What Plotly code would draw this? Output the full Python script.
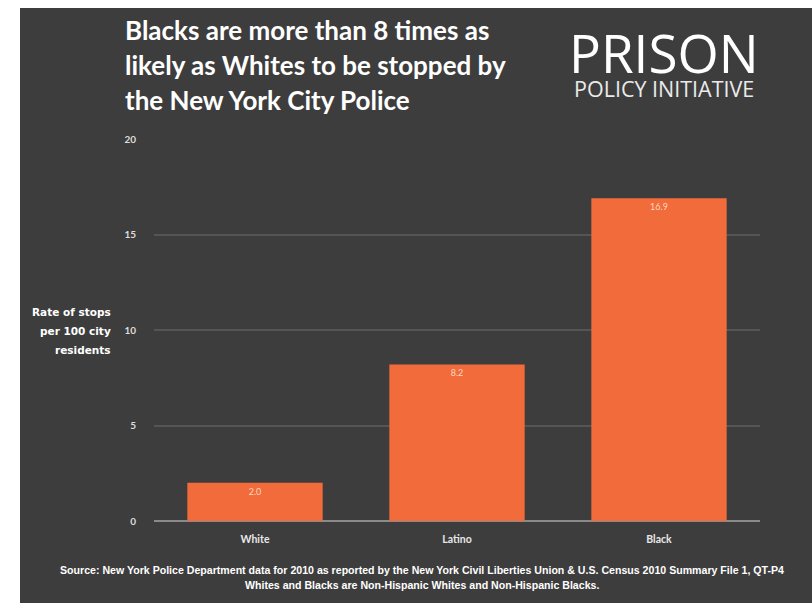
import plotly.graph_objects as go

categories = ["White", "Latino", "Black"]
rates = [2.0, 8.2, 16.9]
value_labels = ["2.0", "8.2", "16.9"]
y_ticks = [0, 5, 10, 15, 20]
title_lines = ["Blacks are more than 8 times as",
               "likely as Whites to be stopped by",
               "the New York City Police"]
ytitle_lines = ["Rate of stops", "per 100 city", "residents"]
source_lines = ["Source: New York Police Department data for 2010 as reported by the New York Civil Liberties Union &amp; U.S. Census 2010 Summary File 1, QT-P4",
                "Whites and Blacks are Non-Hispanic Whites and Non-Hispanic Blacks."]

BG = "#3d3d3d"
BAR = "#f26b3a"


def py2paper(py):
    return (521 - py) / 382


def px2paper(px):
    return (px - 154) / 606


fig = go.Figure()
fig.add_trace(go.Bar(
    x=categories, y=rates,
    marker=dict(color=BAR, line=dict(width=0)),
    text=value_labels, textposition="inside", insidetextanchor="end",
    textfont=dict(family="Lato", size=9, color="rgba(255,235,220,0.85)"),
    width=0.67,
))

annotations = []
for i, line in enumerate(title_lines):
    annotations.append(dict(
        text="<b>" + line + "</b>", xref="paper", yref="paper",
        x=px2paper(123), y=py2paper(30 + i * 35), xanchor="left", yanchor="middle",
        align="left", showarrow=False,
        font=dict(family="Lato", size=26, color="white")))

for i, line in enumerate(ytitle_lines):
    annotations.append(dict(
        text="<b>" + line + "</b>", xref="paper", yref="paper",
        x=px2paper(113), y=py2paper(312 + i * 19), xanchor="right", yanchor="middle",
        align="right", showarrow=False,
        font=dict(family="DejaVu Sans", size=10.5, color="white")))

for i, line in enumerate(source_lines):
    annotations.append(dict(
        text="<b>" + line + "</b>", xref="paper", yref="paper",
        x=px2paper(422), y=py2paper(570 + i * 15), xanchor="center", yanchor="middle",
        align="center", showarrow=False,
        font=dict(family="Liberation Sans", size=10.6, color="white")))

annotations += [
    dict(text="PRISON", xref="paper", yref="paper", x=px2paper(567), y=py2paper(52),
         xanchor="left", yanchor="middle", showarrow=False,
         font=dict(family="Open Sans", size=53, color="white")),
    dict(text="POLICY INITIATIVE", xref="paper", yref="paper", x=px2paper(572), y=py2paper(88),
         xanchor="left", yanchor="middle", showarrow=False,
         font=dict(family="Open Sans", size=21.5, color="#eaeaea")),
]

fig.update_layout(
    width=812, height=603,
    margin=dict(l=154, r=52, t=139, b=82),
    paper_bgcolor="white", plot_bgcolor="rgba(0,0,0,0)",
    showlegend=False,
    font=dict(family="Lato", color="white"),
    xaxis=dict(showgrid=False, zeroline=False, showline=False,
               tickfont=dict(family="Lato", size=10.5, color="#e8e8e8", weight="bold"),
               ticks="outside", ticklen=8, tickcolor="rgba(0,0,0,0)"),
    yaxis=dict(range=[0, 20], tickvals=y_ticks, showgrid=True,
               gridcolor="#555555", gridwidth=1.5,
               zeroline=True, zerolinecolor="#8a8a8a", zerolinewidth=2,
               tickfont=dict(family="Lato", size=10, color="#dddddd", weight="bold"),
               ticks="outside", ticklen=15, tickcolor="rgba(0,0,0,0)"),
    shapes=[dict(type="rect", xref="paper", yref="paper", layer="below",
                 x0=px2paper(20), x1=px2paper(812), y0=py2paper(603), y1=py2paper(8),
                 fillcolor=BG, line=dict(width=0))],
    annotations=annotations,
)

fig.write_html("out.html")
